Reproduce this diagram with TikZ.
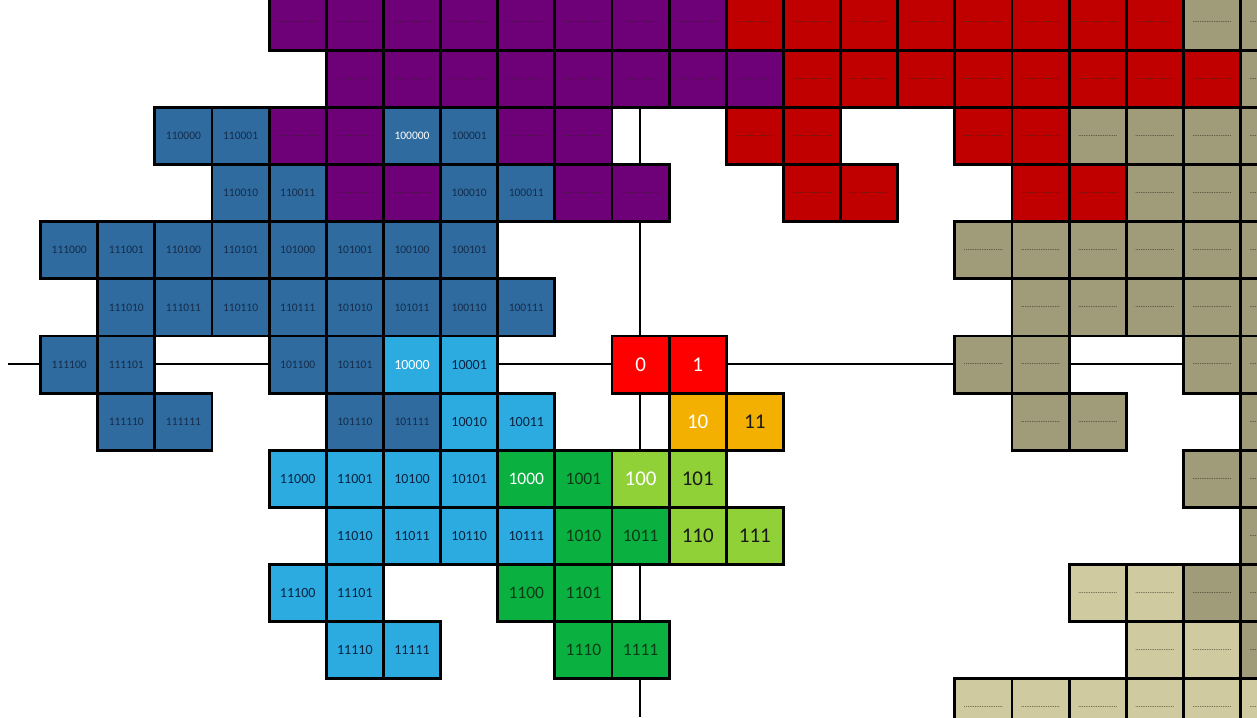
\documentclass[tikz,border=0pt]{standalone}
\usepackage{fontspec}
\setmainfont{Carlito}
\definecolor{tred}{HTML}{FF0000}
\definecolor{tamber}{HTML}{F4B000}
\definecolor{tlgreen}{HTML}{8FD136}
\definecolor{tgreen}{HTML}{0AB040}
\definecolor{tlblue}{HTML}{2CABE0}
\definecolor{tsblue}{HTML}{2F6B9E}
\definecolor{tpurple}{HTML}{6E0078}
\definecolor{tdred}{HTML}{C00000}
\definecolor{ttan}{HTML}{A09B78}
\definecolor{tltan}{HTML}{CFCA9F}
\definecolor{txblack}{HTML}{1A1A1A}
\definecolor{txgreen}{HTML}{0E3B17}
\definecolor{txnavy}{HTML}{0C2340}
\definecolor{txnavyb}{HTML}{142C4C}
\definecolor{txdots}{HTML}{2A2418}
\newcount\tileN \newcount\tileC \newcount\tileR \newcount\tileA
\newcount\tileB \newcount\tileT \newcount\tileBits \newcount\tileM \newcount\tileP
\def\tilecompute#1{%
  \tileN=#1\relax \tileC=0 \tileR=0 \tileA=1 \tileB=0 \tileBits=0 \tileP=1
  \def\tilelbl{}%
  \loop\ifnum\tileN>0
    \tileM=\tileN \divide\tileM by 2 \multiply\tileM by 2
    \ifnum\tileM<\tileN
      \advance\tileC by\tileA \advance\tileR by\tileB
      \edef\tilelbl{1\tilelbl}%
    \else
      \edef\tilelbl{0\tilelbl}%
    \fi
    \divide\tileN by 2
    \tileT=\tileA \advance\tileT by -\tileB
    \advance\tileB by\tileA
    \tileA=\tileT
    \advance\tileBits by 1
    \multiply\tileP by 2
  \repeat
  \ifnum\tileBits=0 \def\tilelbl{0}\tileBits=1 \tileP=0 \fi
  \tileT=#1\relax \multiply\tileT by 2
  \ifnum\tileT=\tileP \def\tiletext{white}\else
    \edef\tiletext{\ifcase\tileBits\or white\or txblack\or txblack\or txgreen\or txnavy\or txnavyb\else txdots\fi}\fi
  \edef\tilefill{\ifcase\tileBits\or tred\or tamber\or tlgreen\or tgreen\or tlblue\or tsblue\or tpurple\or tdred\or ttan\else tltan\fi}%
  \edef\tilefs{\ifcase\tileBits\or 21\or 21\or 21\or 17.5\or 14\or 11.5\else 7\fi}%
  \ifnum\tileBits>6 \def\tilelbl{......................}\fi
}
\tikzset{
  tile/.style={draw=black, line width=2.8pt, minimum width=57.14pt, minimum height=57.14pt, inner sep=0pt, outer sep=0pt},
  axis/.style={draw=black, line width=2pt}
}
\begin{document}
\begin{tikzpicture}[x=1pt,y=-1pt]
\useasboundingbox (0,0) rectangle (1257,717);
\clip (0,0) rectangle (1257,717);
\fill[white] (0,0) rectangle (1257,717);
\coordinate (hl) at (8,364);
\coordinate (hr) at (1257,364);
\coordinate (vt) at (640,0);
\coordinate (vb) at (640,717);
\draw[axis] (hl) -- (hr);
\draw[axis] (vt) -- (vb);
\foreach \n in {0,...,1023}{
  \tilecompute{\n}
  \ifnum\tileC>-12 \ifnum\tileC<12 \ifnum\tileR>-7 \ifnum\tileR<7
    \node[tile, fill=\tilefill, text=\tiletext, font=\fontsize{\tilefs}{\tilefs}\selectfont]
      (t\n) at ({612+57.14*(\the\tileC+0.5)},{336+57.14*(\the\tileR+0.5)}) {\tilelbl};
  \fi\fi\fi\fi
}
\end{tikzpicture}
\end{document}
